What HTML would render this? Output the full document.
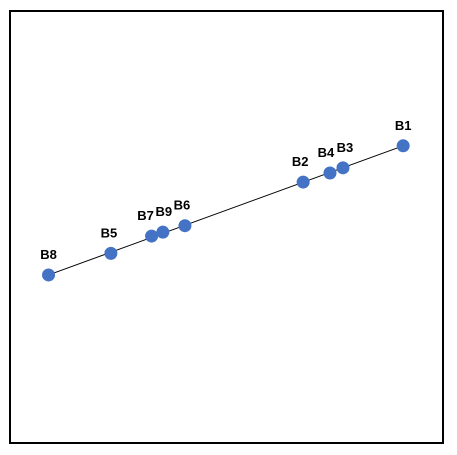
<!DOCTYPE html>
<html><head><meta charset="utf-8"><style>
html,body{margin:0;padding:0;background:#fff;}
svg{display:block;}
text{font-family:"Liberation Sans",sans-serif;font-weight:bold;font-size:13px;fill:#000;}
</style></head><body>
<svg id="chart" width="457" height="455">
<rect x="10" y="11" width="433" height="432" fill="#fff" stroke="#000" stroke-width="2"/>
<g id="marks"></g>
</svg>
<script>
const labels = ["B1","B2","B3","B4","B5","B6","B7","B8","B9"];
const xValues = [90.8, 67.7, 76.9, 73.9, 23.3, 40.4, 32.7, 8.9, 35.3];
const yValues = [68.8, 60.4, 63.7, 62.5, 43.9, 50.3, 47.9, 38.9, 48.8];
const labelShift = [0, -3, 2, -4, -2, -3, -6, 0, 1];
const xDomain = [0, 100];
const yDomain = [0, 100];
function xScale(v){return 10 + (v - xDomain[0]) / (xDomain[1] - xDomain[0]) * 433;}
function yScale(v){return 443 - (v - yDomain[0]) / (yDomain[1] - yDomain[0]) * 432;}
const NS = "http://www.w3.org/2000/svg";
const g = document.getElementById("marks");
let iMin = 0, iMax = 0;
xValues.forEach((v,i)=>{ if(v<xValues[iMin]) iMin=i; if(v>xValues[iMax]) iMax=i; });
const line = document.createElementNS(NS,"line");
line.setAttribute("x1", xScale(xValues[iMin]));
line.setAttribute("y1", yScale(yValues[iMin]));
line.setAttribute("x2", xScale(xValues[iMax]));
line.setAttribute("y2", yScale(yValues[iMax]));
line.setAttribute("stroke", "#000");
line.setAttribute("stroke-width", "1");


g.appendChild(line);
labels.forEach((lab,i)=>{
  const cx = xScale(xValues[i]), cy = yScale(yValues[i]);
  const c = document.createElementNS(NS,"circle");
  c.setAttribute("cx", cx); c.setAttribute("cy", cy); c.setAttribute("r", 6.5);
  c.setAttribute("fill", "#4472C4");
  
  
  g.appendChild(c);
  const t = document.createElementNS(NS,"text");
  t.setAttribute("x", cx + labelShift[i]); t.setAttribute("y", cy - 16);
  t.setAttribute("text-anchor", "middle");
  t.textContent = lab;
  
  
  g.appendChild(t);
});
</script>
</body></html>
